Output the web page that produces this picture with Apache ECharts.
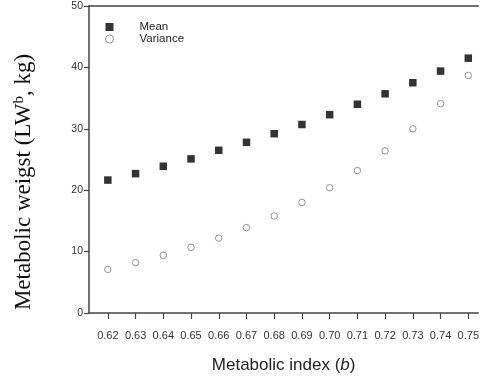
<!DOCTYPE html>
<html><head><meta charset="utf-8">
<script src="https://cdn.jsdelivr.net/npm/echarts@6/dist/echarts.min.js"></script>
<style>html,body{margin:0;padding:0;background:#fff}#c{width:482px;height:379px}</style>
</head><body><div id="c"></div>
<script>
const indices = [0.62,0.63,0.64,0.65,0.66,0.67,0.68,0.69,0.70,0.71,0.72,0.73,0.74,0.75];
const meanVals = [21.65,22.7,23.9,25.1,26.5,27.8,29.2,30.7,32.3,34.0,35.7,37.5,39.4,41.5];
const varVals = [7.1,8.2,9.4,10.7,12.2,13.9,15.8,18.0,20.4,23.2,26.4,30.0,34.1,38.7];
const yTicks = [0,10,20,30,40,50];

const chart = echarts.init(document.getElementById('c'), null, {renderer:'canvas'});
const axisCol = '#444';
const sans = 'Liberation Sans, Arial';
const serif = 'Liberation Serif, Times New Roman, serif';
chart.setOption({
  animation:false,
  grid:{left:89,top:6,right:-2,bottom:62,containLabel:false},
  legend:{
    orient:'vertical', left:105, top:21, padding:0, itemWidth:8, itemHeight:8, itemGap:0,
    textStyle:{fontFamily:sans, fontSize:11.5, lineHeight:12, color:'#222', padding:[0,0,0,21]},
    data:[{name:'Mean', icon:'rect'},{name:'Variance', icon:'circle', itemStyle:{color:'#fff', borderColor:'#777', borderWidth:1}}]
  },
  graphic:[{
    type:'text', x:24, y:182, rotation:Math.PI/2,
    style:{
      text:'Metabolic weigst (LW{sup|b}, kg)',
      font:'23px ' + serif, fill:'#111', align:'center', verticalAlign:'middle',
      rich:{sup:{fontFamily:serif, fontSize:15, fill:'#111', verticalAlign:'top', padding:[0,0,10,0]}}
    }
  }],
  xAxis:[{
    type:'value', min:0.6132, max:0.7536,
    axisLine:{show:true, lineStyle:{color:axisCol, width:1.5}},
    axisTick:{show:true, customValues:indices, length:6, lineStyle:{color:axisCol, width:1.2}},
    axisLabel:{customValues:indices, formatter:v=>v.toFixed(2), fontFamily:sans, fontSize:11, color:'#333', margin:17},
    splitLine:{show:false},
    name:'Metabolic index ({i|b})', nameLocation:'middle', nameGap:44,
    nameTextStyle:{fontFamily:sans, fontSize:17, color:'#222',
      rich:{i:{fontStyle:'italic', fontFamily:sans, fontSize:17, color:'#222'}}}
  },{
    type:'value', position:'top', min:0.6132, max:0.7536,
    axisLine:{show:true, lineStyle:{color:axisCol, width:1.5}},
    axisTick:{show:false}, axisLabel:{show:false}, splitLine:{show:false}
  }],
  yAxis:{
    type:'value', min:0, max:50, interval:10,
    axisLine:{show:true, onZero:false, lineStyle:{color:axisCol, width:1.5}},
    axisTick:{show:true, length:5, lineStyle:{color:axisCol, width:1.2}},
    axisLabel:{fontFamily:sans, fontSize:10.5, color:'#333', margin:6, customValues:yTicks},
    splitLine:{show:false}
  },
  series:[{
    name:'Mean', type:'scatter', symbol:'rect', symbolSize:7.5,
    itemStyle:{color:'#000'},
    data:indices.map((x,i)=>[x,meanVals[i]])
  },{
    name:'Variance', type:'scatter', symbol:'circle', symbolSize:6.5,
    itemStyle:{color:'#fff', borderColor:'#777', borderWidth:1},
    data:indices.map((x,i)=>[x,varVals[i]])
  }]
});
</script></body></html>
